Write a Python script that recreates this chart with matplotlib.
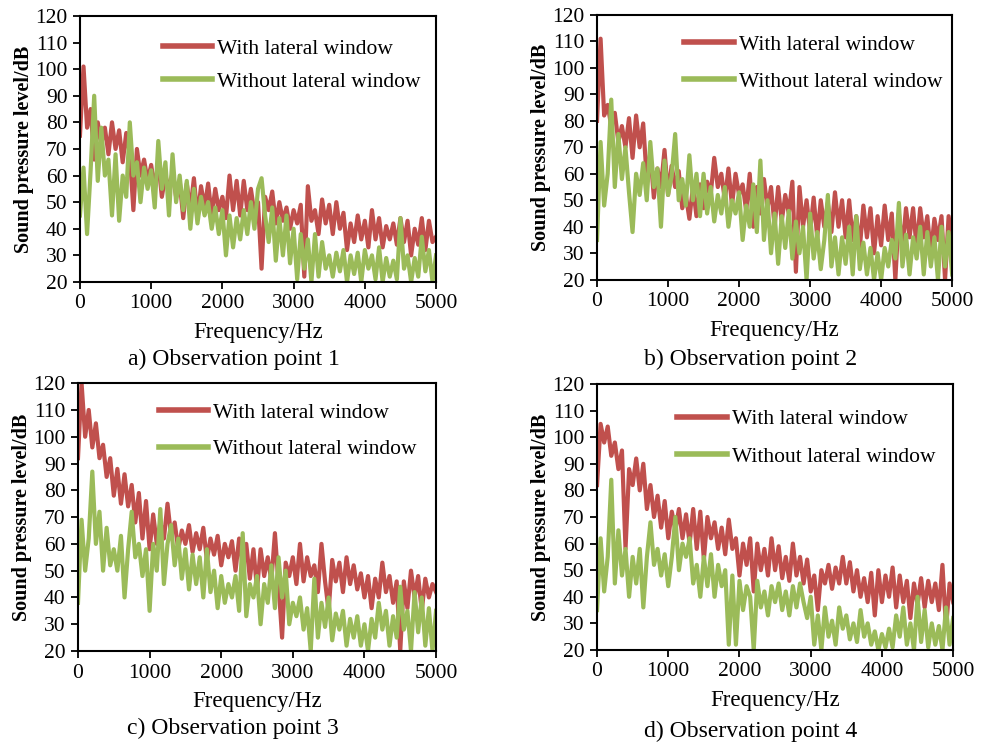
import numpy as np
import matplotlib
matplotlib.use('Agg')
import matplotlib.pyplot as plt

# frequency axis, 50 Hz steps
freq = np.arange(0, 5001, 50)

# a) observation point 1
p1_with = [75, 101, 78, 85, 66, 80, 72, 78, 68, 80, 70, 77, 65, 76, 68, 47, 70, 60, 66, 58,
           64, 55, 65, 52, 60, 55, 61, 52, 58, 44, 57, 47, 59, 44, 56, 48, 57, 45, 55, 47,
           52, 44, 60, 47, 58, 45, 58, 47, 55, 46, 50, 25, 52, 47, 54, 42, 50, 43, 48, 40,
           47, 42, 49, 22, 56, 43, 47, 38, 51, 42, 49, 38, 50, 40, 46, 32, 42, 35, 45, 36,
           43, 33, 47, 36, 44, 33, 41, 36, 42, 34, 44, 35, 43, 30, 40, 34, 44, 32, 43, 35, 37]
p1_without = [45, 63, 38, 62, 90, 58, 78, 60, 66, 45, 68, 43, 60, 52, 80, 60, 65, 50, 63, 55,
              62, 48, 73, 55, 65, 45, 68, 50, 60, 47, 58, 40, 55, 42, 52, 45, 50, 40, 48, 38,
              47, 30, 45, 33, 44, 36, 47, 38, 50, 40, 55, 59, 45, 35, 48, 28, 44, 30, 45, 27,
              40, 21, 38, 25, 36, 20, 38, 22, 35, 25, 30, 22, 31, 24, 32, 20, 30, 23, 31, 20,
              32, 25, 30, 21, 33, 20, 29, 22, 28, 21, 44, 25, 30, 20, 29, 22, 37, 24, 32, 20, 30]

# b) observation point 2
p2_with = [80, 111, 82, 86, 78, 83, 72, 78, 70, 81, 66, 82, 70, 79, 58, 68, 51, 62, 55, 69,
           52, 63, 55, 61, 47, 52, 43, 55, 44, 56, 47, 57, 52, 66, 55, 60, 50, 62, 48, 60,
           52, 56, 46, 60, 40, 55, 45, 58, 47, 55, 40, 55, 42, 52, 45, 57, 23, 55, 40, 50,
           38, 51, 36, 50, 40, 49, 38, 53, 40, 50, 36, 50, 35, 44, 32, 48, 36, 47, 30, 44,
           33, 48, 35, 45, 20, 45, 32, 47, 36, 47, 32, 47, 36, 44, 30, 43, 35, 44, 20, 44, 33]
p2_without = [35, 72, 48, 60, 88, 55, 75, 58, 70, 53, 38, 60, 52, 64, 50, 72, 55, 62, 40, 65,
              52, 59, 75, 50, 58, 48, 67, 50, 60, 44, 60, 45, 55, 42, 52, 45, 55, 40, 50, 45,
              53, 35, 48, 40, 56, 38, 65, 35, 50, 30, 45, 26, 44, 32, 46, 28, 42, 30, 40, 20,
              45, 28, 38, 24, 35, 52, 25, 36, 22, 36, 26, 40, 22, 44, 24, 34, 22, 32, 20, 30,
              20, 32, 25, 35, 28, 49, 25, 37, 22, 36, 28, 40, 22, 38, 25, 36, 20, 40, 25, 38, 22]

# c) observation point 3
p3_with = [92, 120, 100, 110, 96, 105, 92, 97, 85, 92, 78, 88, 75, 86, 74, 82, 68, 79, 62, 76,
           58, 71, 60, 68, 62, 75, 63, 68, 58, 65, 60, 67, 57, 64, 58, 66, 54, 62, 56, 63,
           52, 60, 55, 61, 50, 62, 52, 60, 47, 58, 43, 58, 48, 55, 46, 64, 45, 25, 53, 48,
           55, 45, 60, 46, 55, 48, 52, 42, 60, 46, 35, 54, 46, 53, 42, 55, 45, 52, 43, 49,
           40, 48, 36, 47, 40, 53, 42, 48, 38, 46, 20, 46, 36, 50, 40, 48, 35, 47, 40, 45, 42]
p3_without = [38, 69, 50, 62, 87, 60, 72, 50, 66, 52, 58, 50, 63, 40, 58, 72, 55, 60, 48, 58,
              35, 60, 50, 73, 45, 60, 67, 52, 62, 47, 58, 43, 56, 45, 55, 40, 58, 42, 50, 36,
              48, 38, 45, 40, 48, 35, 64, 33, 45, 40, 48, 30, 45, 38, 52, 36, 55, 40, 50, 30,
              38, 33, 40, 28, 36, 20, 47, 25, 38, 29, 40, 24, 34, 28, 35, 22, 32, 25, 33, 22,
              30, 20, 32, 25, 38, 28, 35, 22, 33, 25, 44, 28, 35, 20, 42, 27, 40, 22, 36, 20, 35]

# d) observation point 4
p4_with = [82, 105, 98, 104, 93, 98, 88, 95, 58, 88, 82, 92, 80, 90, 73, 82, 70, 78, 66, 76,
           62, 72, 65, 73, 62, 71, 60, 73, 58, 72, 54, 70, 62, 68, 58, 66, 56, 69, 58, 62,
           48, 60, 52, 62, 42, 60, 50, 58, 48, 62, 50, 59, 47, 55, 46, 60, 48, 55, 45, 54,
           42, 48, 35, 50, 45, 52, 43, 51, 45, 55, 45, 53, 42, 50, 40, 47, 38, 49, 33, 50,
           38, 48, 40, 51, 36, 48, 38, 46, 32, 45, 37, 47, 36, 46, 38, 45, 35, 52, 28, 45, 38]
p4_without = [35, 62, 42, 55, 84, 45, 65, 48, 58, 40, 55, 45, 58, 36, 55, 68, 52, 58, 48, 56,
              44, 55, 70, 50, 60, 55, 62, 45, 52, 40, 55, 44, 56, 40, 52, 44, 50, 22, 48, 22,
              46, 35, 44, 40, 20, 46, 36, 42, 33, 44, 38, 45, 35, 42, 33, 44, 36, 45, 38, 32,
              40, 22, 33, 20, 36, 25, 31, 22, 36, 28, 33, 24, 30, 23, 35, 25, 30, 22, 27, 20,
              26, 21, 28, 21, 33, 25, 36, 22, 30, 20, 40, 23, 35, 21, 30, 22, 29, 20, 36, 22, 32]

captions = ['a) Observation point 1', 'b) Observation point 2',
            'c) Observation point 3', 'd) Observation point 4']
series = [(p1_with, p1_without), (p2_with, p2_without),
          (p3_with, p3_without), (p4_with, p4_without)]

red = '#C0504D'
green = '#9BBB59'

plt.rcParams['font.family'] = 'Liberation Serif'

fig = plt.figure(figsize=(9.81, 7.42), dpi=100)

# axes boxes [left, bottom, width, height] in figure fractions
boxes = [[0.0815, 0.620, 0.363, 0.3585],
         [0.6086, 0.623, 0.362, 0.357],
         [0.0795, 0.1226, 0.365, 0.361],
         [0.6086, 0.124, 0.363, 0.3585]]
legend_xy = [(0.232, 0.915), (0.245, 0.925), (0.225, 0.928), (0.225, 0.905)]
legend_gap = [0.6, 0.78, 0.78, 0.8]
caption_y = [0.515, 0.515, 0.018, 0.014]

for i in range(4):
    ax = fig.add_axes(boxes[i])
    w, wo = series[i]
    ax.plot(freq, w, color=red, lw=3.0, label='With lateral window')
    ax.plot(freq, wo, color=green, lw=3.0, label='Without lateral window')
    ax.set_xlim(0, 5000)
    ax.set_ylim(20, 120)
    ax.set_xticks(range(0, 5001, 1000))
    ax.set_yticks(range(20, 121, 10))
    ax.tick_params(direction='out', length=5, width=1.3, labelsize=15.5, pad=4)
    for s in ax.spines.values():
        s.set_linewidth(1.5)
    ax.set_xlabel('Frequency/Hz', fontsize=16.5, labelpad=6)
    ax.set_ylabel('Sound pressure level/dB', fontsize=14.5, fontweight='bold', labelpad=1)
    leg = ax.legend(loc='upper left', bbox_to_anchor=legend_xy[i], frameon=False, fontsize=15.5,
                    handlelength=2.3, handletextpad=0.25, labelspacing=legend_gap[i],
                    borderaxespad=0, borderpad=0)
    for ln in leg.get_lines():
        ln.set_linewidth(4)
    cx = boxes[i][0] + boxes[i][2] / 2 - 0.025
    fig.text(cx, caption_y[i], captions[i], ha='center', va='center', fontsize=17)

fig.savefig('out.png', dpi=100)
